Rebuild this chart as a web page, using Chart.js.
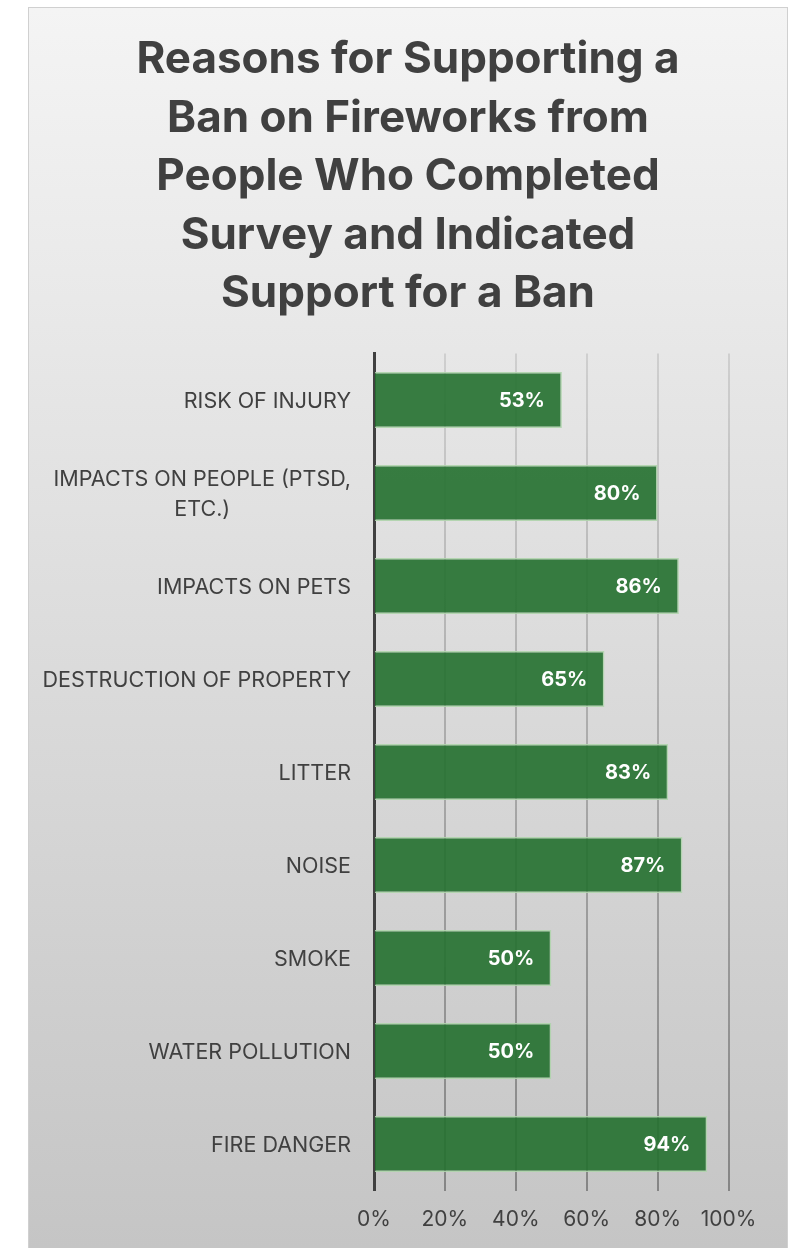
<!DOCTYPE html>
<html>
<head>
<meta charset="utf-8">
<script src="https://cdn.jsdelivr.net/npm/chart.js@4"></script>
<style>
  html, body { margin: 0; padding: 0; background: #fff; }
  #box {
    position: absolute; left: 28px; top: 7px; width: 760px; height: 1242px;
    box-sizing: border-box; border: 1px solid #d0d0d0;
    background: linear-gradient(#f4f4f4, #c5c5c5);
  }
  #wrap { position: absolute; left: 0; top: 0; width: 758px; height: 1240px; }
  #title {
    position: absolute; left: 0; top: 20px; width: 758px; text-align: center;
    font: bold 44px/58.5px Inter, sans-serif; color: #404040; z-index: 1;
  }
</style>
</head>
<body>
<div id="box">
  <div id="title"></div>
  <div id="wrap"><canvas id="chart"></canvas></div>
</div>
<script>
  const titleLines = [
    "Reasons for Supporting a",
    "Ban on Fireworks from",
    "People Who Completed",
    "Survey and Indicated",
    "Support for a Ban",
  ];
  const categories = [
    "RISK OF INJURY",
    ["IMPACTS ON PEOPLE (PTSD,", "ETC.)"],
    "IMPACTS ON PETS",
    "DESTRUCTION OF PROPERTY",
    "LITTER",
    "NOISE",
    "SMOKE",
    "WATER POLLUTION",
    "FIRE DANGER",
  ];
  const values = [53, 80, 86, 65, 83, 87, 50, 50, 94];
  const xTicks = [0, 20, 40, 60, 80, 100];

  const TEXT = "#404040";

  document.getElementById("title").innerHTML = titleLines.join("<br>");

  // category labels: right aligned, wrapped lines centred on each other
  const catLabels = {
    id: "catLabels",
    afterDraw(chart) {
      const { ctx, chartArea, scales } = chart;
      const right = chartArea.left - 23;
      ctx.save();
      ctx.font = "21.5px Inter";
      ctx.fillStyle = TEXT;
      ctx.textBaseline = "middle";
      categories.forEach((lab, i) => {
        const y = scales.y.getPixelForValue(i) + 1.5;
        const lines = Array.isArray(lab) ? lab : [lab];
        const w = Math.max(...lines.map((l) => ctx.measureText(l).width));
        const lh = 29.5;
        ctx.textAlign = lines.length > 1 ? "center" : "right";
        const x = lines.length > 1 ? right - w / 2 : right;
        lines.forEach((l, k) => {
          ctx.fillText(l, x, y + (k - (lines.length - 1) / 2) * lh);
        });
      });
      ctx.restore();
    },
  };

  // value labels inside bar ends
  const valueLabels = {
    id: "valueLabels",
    afterDatasetsDraw(chart) {
      const { ctx } = chart;
      const meta = chart.getDatasetMeta(0);
      ctx.save();
      ctx.font = "bold 20px Inter";
      ctx.fillStyle = "#fff";
      ctx.textAlign = "right";
      ctx.textBaseline = "middle";
      meta.data.forEach((bar, i) => {
        ctx.fillText(`${values[i]}%`, bar.x - 17, bar.y + 1);
      });
      ctx.restore();
    },
  };

  new Chart(document.getElementById("chart"), {
    type: "bar",
    data: {
      labels: categories,
      datasets: [
        {
          data: values,
          backgroundColor: "rgba(36,112,47,0.9)",
          borderColor: "rgba(175,212,172,0.9)",
          borderWidth: 1.5,
          borderSkipped: "start",
          barPercentage: 0.6,
          categoryPercentage: 1,
        },
      ],
    },
    options: {
      indexAxis: "y",
      responsive: true,
      maintainAspectRatio: false,
      animation: false,
      layout: { padding: { left: 0, right: 58.5, top: 345.5, bottom: 0 } },
      plugins: {
        legend: { display: false },
        tooltip: { enabled: false },
        title: { display: false },
      },
      scales: {
        x: {
          min: 0,
          max: 100,
          afterBuildTicks: (scale) => {
            scale.ticks = xTicks.map((v) => ({ value: v }));
          },
          afterFit: (scale) => {
            scale.height = 57.5;
          },
          ticks: {
            callback: (v) => `${v}%`,
            color: TEXT,
            font: { family: "Inter", size: 21 },
            padding: 17,
            maxRotation: 0,
          },
          grid: {
            drawTicks: false,
            lineWidth: 2,
            color: (c) => {
              const area = c.chart.chartArea;
              if (!area) return "rgba(0,0,0,0.2)";
              const g = c.chart.ctx.createLinearGradient(0, area.top, 0, area.bottom);
              g.addColorStop(0, "rgba(0,0,0,0.1)");
              g.addColorStop(1, "rgba(0,0,0,0.33)");
              return g;
            },
          },
          border: { display: false },
        },
        y: {
          ticks: { display: false },
          afterFit: (scale) => {
            scale.width = 345;
          },
          grid: { display: false },
          border: { display: true, color: TEXT, width: 3 },
        },
      },
    },
    plugins: [catLabels, valueLabels],
  });
</script>
</body>
</html>
